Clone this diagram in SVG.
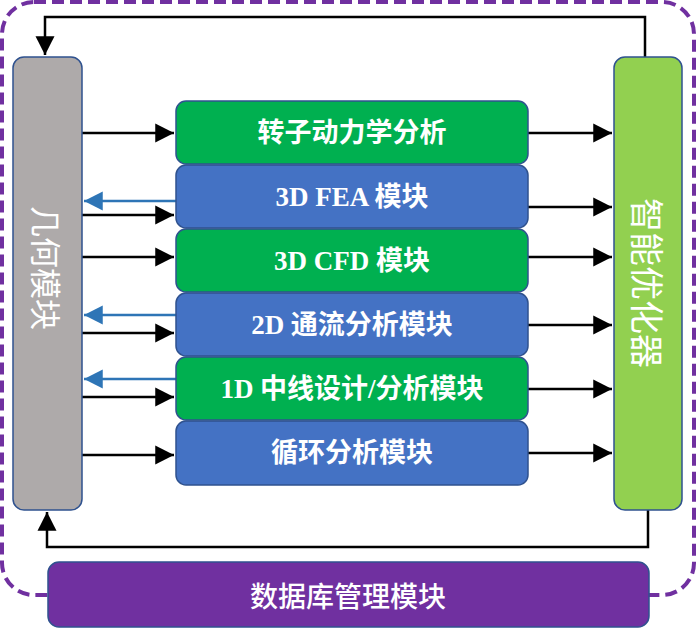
<svg xmlns="http://www.w3.org/2000/svg" width="697" height="629" viewBox="0 0 697 629">
<defs>
<style>
.box{stroke:#2F528F;stroke-width:1.5}
.g{fill:#00B050}.b{fill:#4472C4}
.lbl{font-family:"Liberation Serif","Noto Sans CJK SC",serif;font-weight:bold;font-size:27px;fill:#fff;text-anchor:middle;dominant-baseline:central}
.vt{font-family:"Noto Sans CJK SC","Liberation Sans",sans-serif;font-size:31px;fill:#fff;text-anchor:middle;dominant-baseline:central}
.k{stroke:#000;stroke-width:2.5;fill:none}
.u{stroke:#2E75B6;stroke-width:2.5;fill:none}
</style>
<marker id="ak" markerWidth="8" markerHeight="8" refX="7.5" refY="4" orient="auto" markerUnits="strokeWidth" viewBox="0 0 8 8"><path d="M0,0.2 L7.5,4 L0,7.8 Z" fill="#000"/></marker>
<marker id="au" markerWidth="8" markerHeight="8" refX="7.5" refY="4" orient="auto" markerUnits="strokeWidth" viewBox="0 0 8 8"><path d="M0,0.2 L7.5,4 L0,7.8 Z" fill="#2E75B6"/></marker>
</defs>
<rect width="697" height="629" fill="#fff"/>
<rect x="2" y="2" width="692" height="593" rx="32" fill="none" stroke="#7030A0" stroke-width="4" stroke-dasharray="12,6"/>
<g id="connectors">
<path class="k" d="M645,57 V17 H45 V55" marker-end="url(#ak)"/>
<path class="k" d="M648,510 V547 H47 V512" marker-end="url(#ak)"/>
<path class="k" d="M82,133 H174" marker-end="url(#ak)"/>
<path class="k" d="M82,215 H174" marker-end="url(#ak)"/>
<path class="k" d="M82,257 H174" marker-end="url(#ak)"/>
<path class="k" d="M82,333 H174" marker-end="url(#ak)"/>
<path class="k" d="M82,397 H174" marker-end="url(#ak)"/>
<path class="k" d="M82,455 H174" marker-end="url(#ak)"/>
<path class="u" d="M176,201 H84" marker-end="url(#au)"/>
<path class="u" d="M176,315 H84" marker-end="url(#au)"/>
<path class="u" d="M176,379 H84" marker-end="url(#au)"/>
<path class="k" d="M528,133 H612" marker-end="url(#ak)"/>
<path class="k" d="M528,207 H612" marker-end="url(#ak)"/>
<path class="k" d="M528,257 H612" marker-end="url(#ak)"/>
<path class="k" d="M528,325 H612" marker-end="url(#ak)"/>
<path class="k" d="M528,389 H612" marker-end="url(#ak)"/>
<path class="k" d="M528,453 H612" marker-end="url(#ak)"/>
</g>
<g id="geometry">
<rect class="box" x="13" y="57" width="69" height="453" rx="11" fill="#AEAAAA"/>
<text class="vt" transform="translate(47,268) rotate(90)">几何模块</text>
</g>
<g id="optimizer">
<rect class="box" x="614" y="57" width="68" height="453" rx="11" fill="#92D050"/>
<text class="vt" transform="translate(648,283) rotate(90)" style="font-size:34px">智能优化器</text>
</g>
<g id="rotor"><rect class="box g" x="176" y="101" width="352" height="63" rx="10"/><text class="lbl" x="352" y="133">转子动力学分析</text></g>
<g id="fea"><rect class="box b" x="176" y="165" width="352" height="63" rx="10"/><text class="lbl" x="352" y="197">3D FEA 模块</text></g>
<g id="cfd"><rect class="box g" x="176" y="229" width="352" height="63" rx="10"/><text class="lbl" x="352" y="261">3D CFD 模块</text></g>
<g id="throughflow"><rect class="box b" x="176" y="293" width="352" height="63" rx="10"/><text class="lbl" x="352" y="325">2D 通流分析模块</text></g>
<g id="meanline"><rect class="box g" x="176" y="357" width="352" height="63" rx="10"/><text class="lbl" x="352" y="389">1D 中线设计/分析模块</text></g>
<g id="cycle"><rect class="box b" x="176" y="421" width="352" height="64" rx="10"/><text class="lbl" x="352" y="453">循环分析模块</text></g>
<g id="database">
<rect class="box" x="48" y="562" width="601" height="65" rx="11" fill="#7030A0"/>
<text x="348" y="595" font-family="Noto Sans CJK SC,Liberation Sans,sans-serif" font-size="28" font-weight="500" fill="#fff" text-anchor="middle" dominant-baseline="central">数据库管理模块</text>
</g>
</svg>
